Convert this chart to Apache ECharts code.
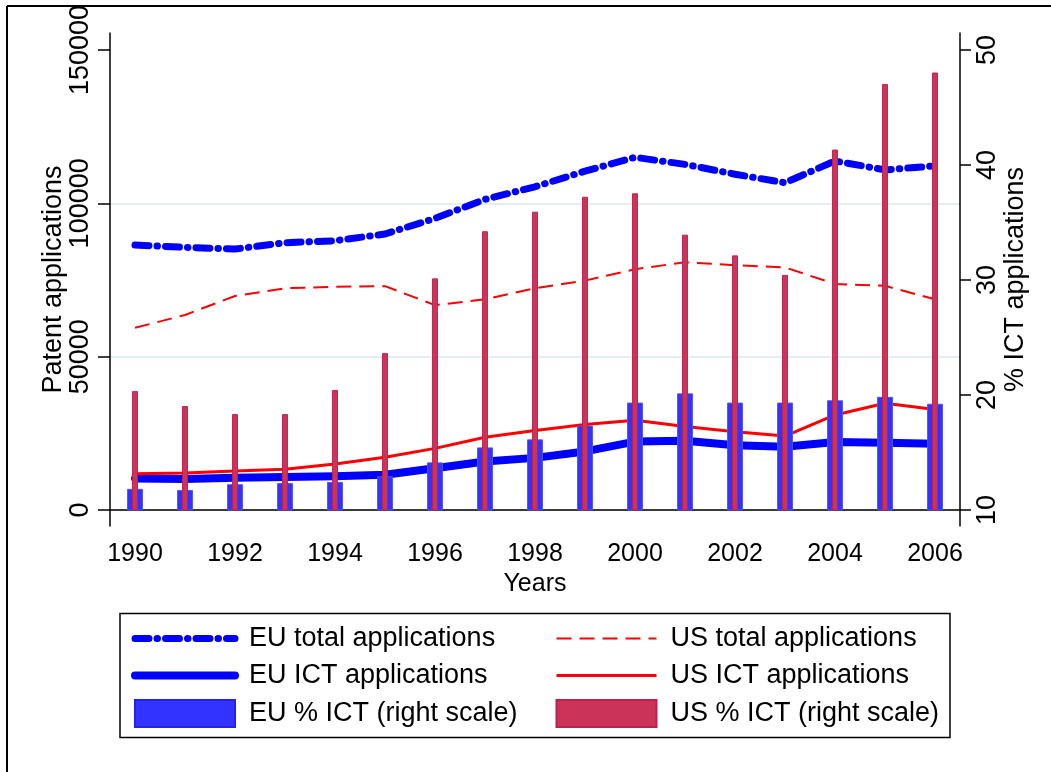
<!DOCTYPE html>
<html>
<head>
<meta charset="utf-8">
<script src="https://cdn.jsdelivr.net/npm/echarts@6/dist/echarts.min.js"></script>
<style>
  html, body { margin: 0; padding: 0; background: #fff; }
  #chart { width: 1051px; height: 772px; }
</style>
</head>
<body>
<div id="chart"></div>
<script>
// Patent applications, EU vs US, 1990-2006
const years = ['1990', '1991', '1992', '1993', '1994', '1995', '1996', '1997', '1998',
               '1999', '2000', '2001', '2002', '2003', '2004', '2005', '2006'];
const euTotal = [86400, 85650, 85100, 87150, 87800, 90000, 95100, 101300, 105400,
                 110500, 115000, 112700, 109500, 106700, 113800, 110900, 112200];
const usTotal = [59400, 63600, 69800, 72300, 72800, 73000, 66800, 68700, 72300,
                 74800, 78500, 80800, 79800, 79100, 73700, 73100, 68700];
const euIct = [10300, 10100, 10500, 10800, 11000, 11500, 13600, 15800, 17000,
               19100, 22300, 22600, 21100, 20600, 22200, 21900, 21600];
const usIct = [11800, 12100, 12700, 13300, 15000, 17200, 20100, 23700, 25900,
               27900, 29300, 27200, 25500, 24100, 31000, 34800, 32800];
const euPct = [11.8, 11.7, 12.2, 12.3, 12.4, 12.9, 14.1, 15.4, 16.1,
               17.3, 19.3, 20.1, 19.3, 19.3, 19.5, 19.8, 19.2];
const usPct = [20.3, 19.0, 18.3, 18.3, 20.4, 23.6, 30.1, 34.2, 35.9,
               37.2, 37.5, 33.9, 32.1, 30.4, 41.3, 47.0, 48.0];
const leftTicks = [0, 50000, 100000, 150000];
const rightTicks = [10, 20, 30, 40, 50];
const gridValues = [0, 50000, 100000];

// bars on the right scale rise from its lowest tick
const PCT_BASE = 10;

const FONT = '"Liberation Sans", Arial, Helvetica, sans-serif';
const BLUE = '#0000ff';
const RED = '#ff0000';
const EU_BAR = '#3333ff';
const US_BAR = '#cc3358';

function barShape(width, fill, stroke) {
  return function (params, api) {
    const idx = api.value(0);
    const top = api.coord([idx, api.value(1)]);
    const base = api.coord([idx, PCT_BASE]);
    return {
      type: 'rect',
      shape: { x: top[0] - width / 2, y: top[1], width: width, height: base[1] - top[1] },
      style: { fill: fill, stroke: stroke, lineWidth: 1 }
    };
  };
}

const chart = echarts.init(document.getElementById('chart'), null, { renderer: 'canvas' });

const axisLineStyle = { color: '#000', width: 1.5 };

// two stacked legend columns inside one framed box
function legendColumn(left, items) {
  return {
    left: left,
    top: 625,
    orient: 'vertical',
    selectedMode: false,
    padding: 0,
    itemWidth: 100,
    itemHeight: 27,
    itemGap: 10,
    textStyle: { fontSize: 27, color: '#000', fontFamily: FONT, padding: [0, 0, 0, 9] },
    data: items
  };
}

chart.setOption({
  backgroundColor: '#fff',
  animation: false,
  textStyle: { fontFamily: FONT, color: '#000' },
  grid: { left: 110, right: 91, top: 33, bottom: 246, outerBoundsMode: 'none', containLabel: false },
  xAxis: {
    type: 'category',
    data: years,
    boundaryGap: true,
    name: 'Years',
    nameLocation: 'middle',
    nameGap: 46,
    nameMoveOverlap: false,
    nameTextStyle: { fontSize: 25, color: '#000', fontFamily: FONT },
    axisLine: { lineStyle: axisLineStyle },
    axisTick: { alignWithLabel: true, interval: 1, length: 11, lineStyle: axisLineStyle },
    axisLabel: { interval: 1, margin: 16, fontSize: 25, color: '#000', fontFamily: FONT },
    splitLine: { show: false }
  },
  yAxis: [
    {
      type: 'value',
      min: -5217,
      max: 155543,
      name: 'Patent applications',
      nameLocation: 'middle',
      nameGap: 43,
      nameMoveOverlap: false,
      nameTextStyle: { fontSize: 27, color: '#000', fontFamily: FONT },
      axisLine: { show: true, lineStyle: axisLineStyle },
      axisTick: { show: true, length: 12, customValues: leftTicks, lineStyle: axisLineStyle },
      axisLabel: {
        customValues: leftTicks, rotate: 90, margin: 16, fontSize: 27,
        color: '#000', fontFamily: FONT, formatter: v => String(v)
      },
      splitLine: { show: false }
    },
    {
      type: 'value',
      min: 8.609,
      max: 51.478,
      position: 'right',
      name: '% ICT applications',
      nameLocation: 'middle',
      nameGap: 42,
      nameMoveOverlap: false,
      nameTextStyle: { fontSize: 27, color: '#000', fontFamily: FONT },
      axisLine: { show: true, lineStyle: axisLineStyle },
      axisTick: { show: true, length: 11, customValues: rightTicks, lineStyle: axisLineStyle },
      axisLabel: {
        customValues: rightTicks, rotate: 90, margin: 14, fontSize: 27,
        color: '#000', fontFamily: FONT, formatter: v => String(v)
      },
      splitLine: { show: false }
    }
  ],
  legend: [
    legendColumn(131, [
      { name: 'EU total applications', itemStyle: { opacity: 0 }, lineStyle: { width: 7 } },
      { name: 'EU ICT applications', itemStyle: { opacity: 0 }, lineStyle: { width: 8 } },
      { name: 'EU % ICT (right scale)', icon: 'rect' }
    ]),
    legendColumn(555, [
      { name: 'US total applications', itemStyle: { opacity: 0 }, lineStyle: { width: 2 } },
      { name: 'US ICT applications', itemStyle: { opacity: 0 }, lineStyle: { width: 3 } },
      { name: 'US % ICT (right scale)', icon: 'rect' }
    ])
  ],
  graphic: [
    { type: 'line', silent: true, shape: { x1: 7, y1: 6, x2: 1051, y2: 6 }, style: { stroke: '#000', lineWidth: 2 } },
    { type: 'line', silent: true, shape: { x1: 7, y1: 6, x2: 7, y2: 772 }, style: { stroke: '#000', lineWidth: 2 } },
    { type: 'rect', silent: true, shape: { x: 120, y: 613.5, width: 830, height: 124 },
      style: { fill: 'none', stroke: '#000', lineWidth: 1.5 } }
  ],
  series: [
    {
      // horizontal reference lines on the left scale
      type: 'line',
      name: 'grid',
      yAxisIndex: 0,
      data: [],
      z: 0,
      silent: true,
      markLine: {
        silent: true,
        symbol: 'none',
        z: 0,
        label: { show: false },
        lineStyle: { color: '#e4eef0', width: 2, type: 'solid' },
        emphasis: { disabled: true },
        data: gridValues.map(v => ({ yAxis: v }))
      }
    },
    {
      type: 'line',
      name: 'EU total applications',
      yAxisIndex: 0,
      data: euTotal,
      symbol: 'none',
      z: 2,
      lineStyle: { color: BLUE, width: 7, type: [14, 8, 0.5, 8], cap: 'round', join: 'round' },
      itemStyle: { color: BLUE }
    },
    {
      type: 'line',
      name: 'US total applications',
      yAxisIndex: 0,
      data: usTotal,
      symbol: 'none',
      z: 2,
      lineStyle: { color: RED, width: 2, type: [15, 8] },
      itemStyle: { color: RED }
    },
    {
      type: 'line',
      name: 'EU ICT applications',
      yAxisIndex: 0,
      data: euIct,
      symbol: 'none',
      z: 2,
      lineStyle: { color: BLUE, width: 8, cap: 'round', join: 'round' },
      itemStyle: { color: BLUE }
    },
    {
      type: 'line',
      name: 'US ICT applications',
      yAxisIndex: 0,
      data: usIct,
      symbol: 'none',
      z: 2,
      lineStyle: { color: RED, width: 3 },
      itemStyle: { color: RED }
    },
    {
      type: 'custom',
      name: 'EU % ICT (right scale)',
      yAxisIndex: 1,
      z: 3,
      encode: { x: 0, y: 1 },
      data: euPct.map((v, i) => [i, v]),
      itemStyle: { color: EU_BAR, borderColor: '#2222ee', borderWidth: 1 },
      renderItem: barShape(15, EU_BAR, 'rgba(80,80,255,0.9)')
    },
    {
      type: 'custom',
      name: 'US % ICT (right scale)',
      yAxisIndex: 1,
      z: 4,
      encode: { x: 0, y: 1 },
      data: usPct.map((v, i) => [i, v]),
      itemStyle: { color: US_BAR, borderColor: '#bb2050', borderWidth: 1 },
      renderItem: barShape(5, US_BAR, 'rgba(190,30,75,0.9)')
    }
  ]
});
</script>
</body>
</html>
